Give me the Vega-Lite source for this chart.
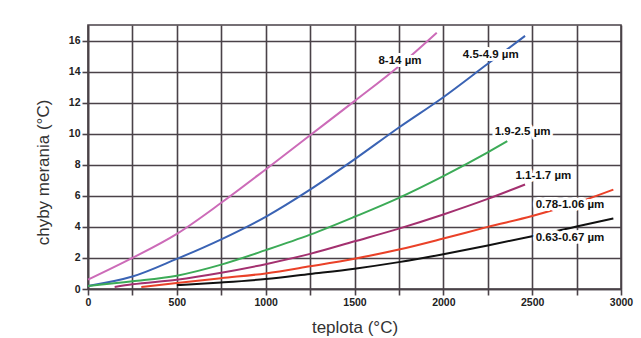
{
  "$schema": "https://vega.github.io/schema/vega-lite/v6.json",
  "width": 533,
  "height": 264,
  "autosize": "none",
  "padding": {"left": 88, "top": 25, "right": 20, "bottom": 49},
  "background": "white",
  "config": {
    "font": "Liberation Sans",
    "view": {"stroke": "#4a4248", "strokeWidth": 1.6}
  },
  "datasets": {
    "curves": [
      {"band": "8-14 µm", "t": 0, "e": 0.6},
      {"band": "8-14 µm", "t": 250, "e": 2.0},
      {"band": "8-14 µm", "t": 500, "e": 3.55},
      {"band": "8-14 µm", "t": 750, "e": 5.55},
      {"band": "8-14 µm", "t": 1000, "e": 7.7},
      {"band": "8-14 µm", "t": 1250, "e": 9.9},
      {"band": "8-14 µm", "t": 1500, "e": 12.1},
      {"band": "8-14 µm", "t": 1750, "e": 14.35},
      {"band": "8-14 µm", "t": 1963, "e": 16.5},
      {"band": "4.5-4.9 µm", "t": 0, "e": 0.2},
      {"band": "4.5-4.9 µm", "t": 250, "e": 0.8},
      {"band": "4.5-4.9 µm", "t": 500, "e": 1.94},
      {"band": "4.5-4.9 µm", "t": 750, "e": 3.2},
      {"band": "4.5-4.9 µm", "t": 1000, "e": 4.65},
      {"band": "4.5-4.9 µm", "t": 1250, "e": 6.4},
      {"band": "4.5-4.9 µm", "t": 1500, "e": 8.35},
      {"band": "4.5-4.9 µm", "t": 1750, "e": 10.4},
      {"band": "4.5-4.9 µm", "t": 2000, "e": 12.35},
      {"band": "4.5-4.9 µm", "t": 2250, "e": 14.5},
      {"band": "4.5-4.9 µm", "t": 2460, "e": 16.3},
      {"band": "1.9-2.5 µm", "t": 0, "e": 0.2},
      {"band": "1.9-2.5 µm", "t": 250, "e": 0.5},
      {"band": "1.9-2.5 µm", "t": 500, "e": 0.86},
      {"band": "1.9-2.5 µm", "t": 750, "e": 1.57},
      {"band": "1.9-2.5 µm", "t": 1000, "e": 2.5},
      {"band": "1.9-2.5 µm", "t": 1250, "e": 3.5},
      {"band": "1.9-2.5 µm", "t": 1500, "e": 4.65},
      {"band": "1.9-2.5 µm", "t": 1750, "e": 5.87},
      {"band": "1.9-2.5 µm", "t": 2000, "e": 7.27},
      {"band": "1.9-2.5 µm", "t": 2250, "e": 8.8},
      {"band": "1.9-2.5 µm", "t": 2360, "e": 9.52},
      {"band": "1.1-1.7 µm", "t": 150, "e": 0.13},
      {"band": "1.1-1.7 µm", "t": 250, "e": 0.3},
      {"band": "1.1-1.7 µm", "t": 500, "e": 0.6},
      {"band": "1.1-1.7 µm", "t": 750, "e": 1.05},
      {"band": "1.1-1.7 µm", "t": 1000, "e": 1.6},
      {"band": "1.1-1.7 µm", "t": 1250, "e": 2.26},
      {"band": "1.1-1.7 µm", "t": 1500, "e": 3.07},
      {"band": "1.1-1.7 µm", "t": 1750, "e": 3.89},
      {"band": "1.1-1.7 µm", "t": 2000, "e": 4.8},
      {"band": "1.1-1.7 µm", "t": 2250, "e": 5.8},
      {"band": "1.1-1.7 µm", "t": 2460, "e": 6.73},
      {"band": "0.78-1.06 µm", "t": 300, "e": 0.13},
      {"band": "0.78-1.06 µm", "t": 500, "e": 0.39},
      {"band": "0.78-1.06 µm", "t": 750, "e": 0.7},
      {"band": "0.78-1.06 µm", "t": 1000, "e": 1.0},
      {"band": "0.78-1.06 µm", "t": 1250, "e": 1.46},
      {"band": "0.78-1.06 µm", "t": 1500, "e": 1.95},
      {"band": "0.78-1.06 µm", "t": 1750, "e": 2.54},
      {"band": "0.78-1.06 µm", "t": 2000, "e": 3.25},
      {"band": "0.78-1.06 µm", "t": 2250, "e": 4.0},
      {"band": "0.78-1.06 µm", "t": 2500, "e": 4.7},
      {"band": "0.78-1.06 µm", "t": 2750, "e": 5.55},
      {"band": "0.78-1.06 µm", "t": 2957, "e": 6.4},
      {"band": "0.63-0.67 µm", "t": 500, "e": 0.25},
      {"band": "0.63-0.67 µm", "t": 750, "e": 0.42},
      {"band": "0.63-0.67 µm", "t": 1000, "e": 0.64},
      {"band": "0.63-0.67 µm", "t": 1250, "e": 0.97},
      {"band": "0.63-0.67 µm", "t": 1500, "e": 1.31},
      {"band": "0.63-0.67 µm", "t": 1750, "e": 1.73},
      {"band": "0.63-0.67 µm", "t": 2000, "e": 2.24},
      {"band": "0.63-0.67 µm", "t": 2250, "e": 2.8},
      {"band": "0.63-0.67 µm", "t": 2500, "e": 3.4},
      {"band": "0.63-0.67 µm", "t": 2750, "e": 4.02},
      {"band": "0.63-0.67 µm", "t": 2957, "e": 4.54}
    ],
    "labels": [
      {"label": "8-14 µm", "t": 1756, "e": 14.65},
      {"label": "4.5-4.9 µm", "t": 2267, "e": 15.1},
      {"label": "1.9-2.5 µm", "t": 2446, "e": 10.13},
      {"label": "1.1-1.7 µm", "t": 2563, "e": 7.27},
      {"label": "0.78-1.06 µm", "t": 2713, "e": 5.4},
      {"label": "0.63-0.67 µm", "t": 2713, "e": 3.29}
    ]
  },
  "encoding": {
    "x": {
      "field": "t",
      "type": "quantitative",
      "scale": {"domain": [0, 3000], "nice": false, "zero": false},
      "axis": {
        "values": [0, 250, 500, 750, 1000, 1250, 1500, 1750, 2000, 2250, 2500, 2750, 3000],
        "format": "d",
        "labelExpr": "datum.value % 500 === 0 ? datum.label : ''",
        "labelFlush": false,
        "labelOverlap": false,
        "labelFont": "Liberation Sans",
        "labelFontWeight": "bold",
        "labelFontSize": 10.5,
        "labelColor": "#222222",
        "labelPadding": 2,
        "grid": true,
        "gridColor": "#4a4248",
        "gridWidth": 1.6,
        "gridOpacity": 1,
        "domainColor": "#4a4248",
        "domainWidth": 1.6,
        "tickColor": "#4a4248",
        "tickWidth": 1.6,
        "tickSize": 6,
        "title": "teplota (°C)",
        "titleFont": "Liberation Sans",
        "titleFontSize": 17,
        "titleFontWeight": "normal",
        "titleColor": "#333333",
        "titleBaseline": "alphabetic",
        "titleY": 43
      }
    },
    "y": {
      "field": "e",
      "type": "quantitative",
      "scale": {"domain": [0, 17], "nice": false},
      "axis": {
        "values": [0, 2, 4, 6, 8, 10, 12, 14, 16],
        "labelFont": "Liberation Sans",
        "labelFontWeight": "bold",
        "labelFontSize": 10.5,
        "labelColor": "#222222",
        "labelPadding": 2,
        "grid": true,
        "gridColor": "#4a4248",
        "gridWidth": 1.6,
        "gridOpacity": 1,
        "domainColor": "#4a4248",
        "domainWidth": 1.6,
        "tickColor": "#4a4248",
        "tickWidth": 1.6,
        "tickSize": 6,
        "title": "chyby merania (°C)",
        "titleFont": "Liberation Sans",
        "titleFontSize": 17,
        "titleFontWeight": "normal",
        "titleColor": "#333333",
        "titleAngle": -90,
        "titleAlign": "center",
        "titleBaseline": "middle",
        "titleX": -45,
        "titleY": 147
      }
    }
  },
  "layer": [
    {
      "data": {"name": "curves"},
      "mark": {"type": "line", "interpolate": "monotone", "strokeWidth": 2},
      "encoding": {
        "color": {
          "field": "band",
          "type": "nominal",
          "scale": {
            "domain": ["8-14 µm", "4.5-4.9 µm", "1.9-2.5 µm", "1.1-1.7 µm", "0.78-1.06 µm", "0.63-0.67 µm"],
            "range": ["#cc6bb8", "#3a63b4", "#3cab57", "#a3306f", "#ea4128", "#111111"]
          },
          "legend": null
        }
      }
    },
    {
      "data": {"name": "labels"},
      "mark": {"type": "text", "font": "Liberation Sans", "fontWeight": "bold", "fontSize": 11.5, "fill": "white", "stroke": "white", "strokeWidth": 6, "strokeJoin": "round"},
      "encoding": {"text": {"field": "label"}}
    },
    {
      "data": {"name": "labels"},
      "mark": {"type": "text", "font": "Liberation Sans", "fontWeight": "bold", "fontSize": 11.5, "fill": "#111111"},
      "encoding": {"text": {"field": "label"}}
    }
  ]
}
